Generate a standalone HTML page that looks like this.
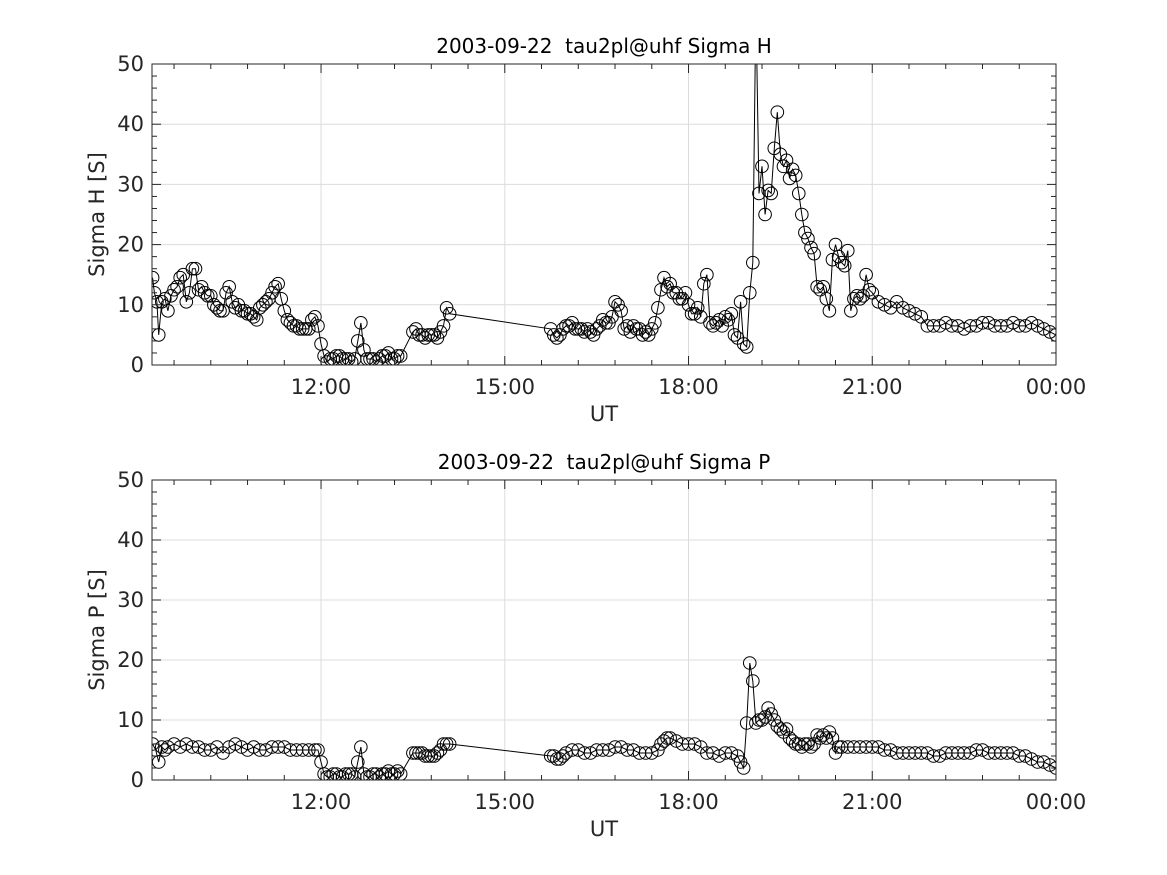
<!DOCTYPE html>
<html><head><meta charset="utf-8"><style>
body{margin:0;background:#fff;}
svg{display:block;font-family:"DejaVu Sans","Liberation Sans",sans-serif;}
text{white-space:pre;}
</style></head><body>
<svg id="chart" width="1167" height="875" viewBox="0 0 1167 875" xmlns="http://www.w3.org/2000/svg"></svg>
<script>
const hTimes=[9.25,9.28,9.32,9.35,9.4,9.45,9.5,9.55,9.6,9.65,9.7,9.75,9.8,9.85,9.9,9.95,10.0,10.05,10.1,10.15,10.2,10.25,10.3,10.35,10.4,10.45,10.5,10.55,10.6,10.65,10.7,10.75,10.8,10.85,10.9,10.95,11.0,11.05,11.1,11.15,11.2,11.25,11.3,11.35,11.4,11.45,11.5,11.55,11.6,11.65,11.7,11.75,11.8,11.85,11.9,11.95,12.0,12.05,12.1,12.15,12.2,12.25,12.3,12.35,12.4,12.45,12.5,12.55,12.6,12.65,12.7,12.75,12.8,12.85,12.9,12.95,13.0,13.05,13.1,13.15,13.2,13.25,13.3,13.5,13.55,13.6,13.65,13.7,13.75,13.8,13.85,13.9,13.95,14.0,14.05,14.1,
15.75,15.8,15.85,15.9,15.95,16.0,16.05,16.1,16.15,16.2,16.25,16.3,16.35,16.4,16.45,16.5,16.55,16.6,16.65,16.7,16.75,16.8,16.85,16.9,16.95,17.0,17.05,17.1,17.15,17.2,17.25,17.3,17.35,17.4,17.45,17.5,17.55,17.6,17.65,17.7,17.75,17.8,17.85,17.9,17.95,18.0,18.05,18.1,18.15,18.2,18.25,18.3,18.35,18.4,18.45,18.5,18.55,18.6,18.65,18.7,18.75,18.8,18.85,18.9,18.95,19.0,19.05,19.1,19.15,19.2,19.25,19.3,19.35,19.4,19.45,19.5,19.55,19.6,19.65,19.7,19.75,19.8,19.85,19.9,19.95,20.0,20.05,20.1,20.15,20.2,20.25,20.3,20.35,20.4,20.45,20.5,20.55,20.6,20.65,20.7,20.75,20.8,20.85,20.9,20.95,
21.0,21.1,21.2,21.3,21.4,21.5,21.6,21.7,21.8,21.9,22.0,22.1,22.2,22.3,22.4,22.5,22.6,22.7,22.8,22.9,23.0,23.1,23.2,23.3,23.4,23.5,23.6,23.7,23.8,23.9,24.0];
const hVals=[14.5,12,10.5,5,10.5,11,9,11.5,12.5,13,14.5,15,10.5,12,16,16,12.5,13,12,11.5,11.5,10,9.5,9,9,12,13,10.5,9.5,10,9,9,8.5,8.5,8,7.5,9.5,10,10.5,11,12,13,13.5,11,9,7.5,7,6.5,6.5,6,6,6,6,7.5,8,6.5,3.5,1.5,0.5,1,1,1.5,1.5,1,1,1,0.5,1,4,7,2.5,1,1,1,0.5,1,1.5,1.5,2,1,1,1.5,1.5,5.5,6,5,5,4.5,5,5,5,4.5,5.5,6.5,9.5,8.5,
6,5,4.5,5,6,6.5,6.5,7,6,6,6,5.5,6,5.5,5,6,6.5,7.5,7,7,8,10.5,10,9,6,6.5,5.5,6.5,6,6,5,5.5,5,6,7,9.5,12.5,14.5,13,13.5,12,12,11,11,12,10,8.5,8.5,9.5,8,13.5,15,7,6.5,7,7.5,6.5,8,7.5,8.5,5,4.5,10.5,3.5,3,12,17,60,28.5,33,25,29,28.5,36,42,35,33,34,31,32.5,31.5,28.5,25,22,21,19.5,18.5,13,12.5,13,11,9,17.5,20,18,17,16.5,19,9,11,11.5,11,11.5,15,12.5,12,10.5,10,9.5,10.5,
9.5,9,8.5,8,6.5,6.5,6.5,7,6.5,6.5,6,6.5,6.5,7,7,6.5,6.5,6.5,7,6.5,6.5,7,6.5,6,5.5,5,5,4.5,4.5,4,3.5];
const pTimes=[9.25,9.3,9.35,9.4,9.45,9.5,9.6,9.7,9.8,9.9,10.0,10.1,10.2,10.3,10.4,10.5,10.6,10.7,10.8,10.9,11.0,11.1,11.2,11.3,11.4,11.5,11.6,11.7,11.8,11.9,11.95,12.0,12.05,12.1,12.15,12.2,12.25,12.3,12.35,12.4,12.45,12.5,12.55,12.6,12.65,12.7,12.75,12.8,12.85,12.9,12.95,13.0,13.05,13.1,13.15,13.2,13.25,13.3,13.5,13.55,13.6,13.65,13.7,13.75,13.8,13.85,13.9,13.95,14.0,14.05,14.1,
15.75,15.8,15.85,15.9,15.95,16.0,16.1,16.2,16.3,16.4,16.5,16.6,16.7,16.8,16.9,17.0,17.1,17.2,17.3,17.4,17.5,17.55,17.6,17.65,17.7,17.8,17.9,18.0,18.1,18.2,18.3,18.4,18.5,18.6,18.7,18.8,18.85,18.9,18.95,19.0,19.05,19.1,19.15,19.2,19.25,19.3,19.35,19.4,19.45,19.5,19.55,19.6,19.65,19.7,19.75,19.8,19.85,19.9,19.95,20.0,20.05,20.1,20.15,20.2,20.25,20.3,20.35,20.4,20.45,20.5,20.6,20.7,20.8,20.9,
21.0,21.1,21.2,21.3,21.4,21.5,21.6,21.7,21.8,21.9,22.0,22.1,22.2,22.3,22.4,22.5,22.6,22.7,22.8,22.9,23.0,23.1,23.2,23.3,23.4,23.5,23.6,23.7,23.8,23.9,24.0];
const pVals=[6,5,3,5.5,5,5.5,6,5.5,6,5.5,5.5,5,5,5.5,4.5,5.5,6,5.5,5,5.5,5,5,5.5,5.5,5.5,5,5,5,5,5,5,3,1,0.5,0.5,1,1,0.5,0.5,1,1,1,0.5,3,5.5,1,0.5,0.5,1,1,0.5,1,1,1.5,1,1,1.5,1,4.5,4.5,4.5,4.5,4,4,4,4,4.5,5,6,6,6,
4,4,3.5,3.5,4,4.5,5,5,4.5,4.5,5,5,5,5.5,5.5,5,5,4.5,4.5,4.5,5,6,6.5,7,7,6.5,6,6,6,5.5,4.5,4.5,4,4.5,4.5,4,3,2,9.5,19.5,16.5,9.5,10,10,10.5,12,11,10,9,8.5,8,8.5,7,6.5,6,6,5.5,6,6,5.5,6,7.5,7,7.5,7,8,7,4.5,5.5,5.5,5.5,5.5,5.5,5.5,
5.5,5.5,5,5,4.5,4.5,4.5,4.5,4.5,4.5,4,4,4.5,4.5,4.5,4.5,4.5,5,5,4.5,4.5,4.5,4.5,4.5,4,4,3.5,3,3,2.5,2];
const xTicks=[12,15,18,21,24];
const xTickLabels=["12:00","15:00","18:00","21:00","00:00"];
const yTicks=[0,10,20,30,40,50];

const NS="http://www.w3.org/2000/svg";
const svg=document.getElementById('chart');
function mk(tag,attrs,parent){const e=document.createElementNS(NS,tag);for(const k in attrs)e.setAttribute(k,attrs[k]);(parent||svg).appendChild(e);return e;}
const X0=152,X1=1056,T0=9.24,T1=24;
function xs(t){return X0+(t-T0)/(T1-T0)*(X1-X0);}

function panel(top,bottom,title,ylab,times,vals,key){
  const g=mk('g',{});
  
  
  const ys=v=>bottom-v/50*(bottom-top);
  xTicks.forEach(t=>{const l=mk('line',{x1:xs(t),x2:xs(t),y1:top,y2:bottom,stroke:'#dcdcdc','stroke-width':1},g);});
  yTicks.forEach(v=>{const l=mk('line',{x1:X0,x2:X1,y1:ys(v),y2:ys(v),stroke:'#dcdcdc','stroke-width':1},g);});
  const clipId='clip'+key;
  const cp=mk('clipPath',{id:clipId},g);mk('rect',{x:X0,y:top,width:X1-X0,height:bottom-top},cp);
  const dg=mk('g',{'clip-path':'url(#'+clipId+')'},g);
  let d='';times.forEach((t,i)=>{d+=(i?'L':'M')+xs(t).toFixed(1)+','+ys(vals[i]).toFixed(1);});
  const ln=mk('path',{d:d,fill:'none',stroke:'#000','stroke-width':1},dg);
  
  
  times.forEach((t,i)=>{const c=mk('circle',{cx:xs(t),cy:ys(vals[i]),r:6.3,fill:'none',stroke:'#000','stroke-width':1},dg);
    
    });
  const b=mk('rect',{x:X0,y:top,width:X1-X0,height:bottom-top,fill:'none',stroke:'#262626','stroke-width':1},g);
  
  for(let t=12-0.6*5;t<=24.001;t+=0.6){if(t<T0)continue;const major=xTicks.some(m=>Math.abs(m-t)<0.01);const len=major?9:5;
    mk('line',{x1:xs(t),x2:xs(t),y1:bottom,y2:bottom-len,stroke:'#262626'},g);mk('line',{x1:xs(t),x2:xs(t),y1:top,y2:top+len,stroke:'#262626'},g);}
  for(let v=0;v<=50;v+=2){const len=v%10===0?9:5;
    mk('line',{x1:X0,x2:X0+len,y1:ys(v),y2:ys(v),stroke:'#262626'},g);mk('line',{x1:X1,x2:X1-len,y1:ys(v),y2:ys(v),stroke:'#262626'},g);}
  xTicks.forEach((t,i)=>{const tx=mk('text',{x:xs(t),y:bottom+29,'text-anchor':'middle','font-size':21,fill:'#262626'},g);tx.textContent=xTickLabels[i];
    });
  yTicks.forEach(v=>{const tx=mk('text',{x:X0-8,y:ys(v)+7,'text-anchor':'end','font-size':21,fill:'#262626'},g);tx.textContent=v;
    });
  const xt=mk('text',{x:(X0+X1)/2,y:bottom+56,'text-anchor':'middle','font-size':21,fill:'#262626'},g);xt.textContent='UT';
  
  const yt=mk('text',{x:0,y:0,'text-anchor':'middle','font-size':21,fill:'#262626',transform:'translate(104,'+(top+bottom)/2+') rotate(-90)'},g);yt.textContent=ylab;
  
  const tt=mk('text',{x:(X0+X1)/2,y:top-11,'text-anchor':'middle','font-size':20,fill:'#000'},g);tt.textContent=title;
  
}
panel(64,365,'2003-09-22  tau2pl@uhf Sigma H','Sigma H [S]',hTimes,hVals,'sigma-h');
panel(480,780,'2003-09-22  tau2pl@uhf Sigma P','Sigma P [S]',pTimes,pVals,'sigma-p');
</script>
</body></html>
